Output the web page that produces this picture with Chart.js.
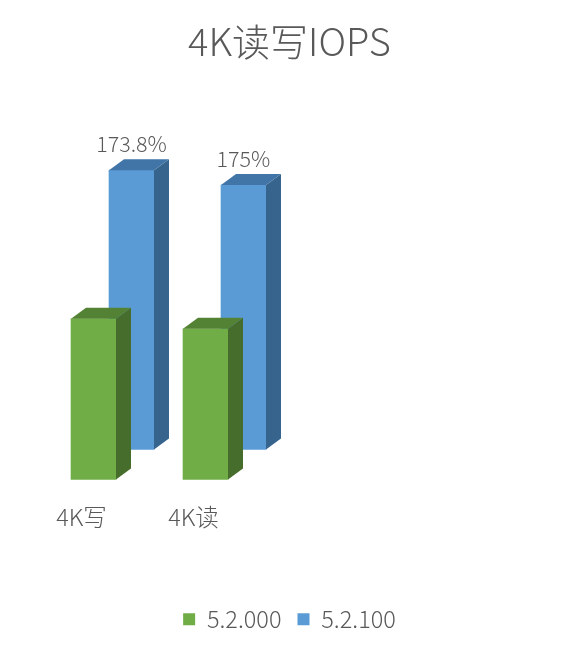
<!DOCTYPE html>
<html>
<head>
<meta charset="utf-8">
<title>4K读写IOPS</title>
<script src="https://cdn.jsdelivr.net/npm/chart.js@4"></script>
<style>
  html, body { margin: 0; padding: 0; background: #fff; }
  canvas { display: block; }
</style>
</head>
<body>
<canvas id="MyChart" width="579" height="652"></canvas>
<script>
const categories = ['4K写', '4K读'];
const seriesNames = ['5.2.000', '5.2.100'];
const values52000 = [100, 93.8];
const values52100 = [173.8, 164.6];
const labels52100 = ['173.8%', '175%'];

const fontFamily = '"Noto Sans CJK SC", "Noto Sans", sans-serif';
const textColor = '#595959';

// fake 3d: side and top faces, drawn from the bar elements
const depthX = 15, depthY = 11;
const backX = 38, backY = 30;
const faces = [
  { side: '#466D2C', top: '#548235' },
  { side: '#37648D', top: '#4175A8' }
];

const bars3d = {
  id: 'bars3d',
  beforeDatasetDraw(chart, args) {
    chart.ctx.save();
    if (args.index === 1) chart.ctx.translate(backX, -backY);
  },
  afterDatasetDraw(chart, args) {
    const ctx = chart.ctx;
    args.meta.data.forEach(function (bar, i) {
      const l = bar.x - bar.width / 2, r = bar.x + bar.width / 2;
      ctx.fillStyle = faces[args.index].side;
      ctx.beginPath();
      ctx.moveTo(r, bar.y);
      ctx.lineTo(r + depthX, bar.y - depthY);
      ctx.lineTo(r + depthX, bar.base - depthY);
      ctx.lineTo(r, bar.base);
      ctx.fill();
      ctx.fillStyle = faces[args.index].top;
      ctx.beginPath();
      ctx.moveTo(l, bar.y);
      ctx.lineTo(l + depthX, bar.y - depthY);
      ctx.lineTo(r + depthX, bar.y - depthY);
      ctx.lineTo(r, bar.y);
      ctx.fill();
      if (args.index === 1) {
        ctx.fillStyle = textColor;
        ctx.font = '300 21.5px ' + fontFamily;
        ctx.textAlign = 'center';
        ctx.textBaseline = 'middle';
        ctx.fillText(labels52100[i], bar.x, bar.y - 26);
      }
    });
    ctx.restore();
  }
};

const data = {
  labels: categories,
  datasets: [
    { label: seriesNames[0], data: values52000, backgroundColor: '#70AD47', barThickness: 45, grouped: false, clip: false },
    { label: seriesNames[1], data: values52100, backgroundColor: '#5B9BD5', barThickness: 45, grouped: false, clip: false }
  ]
};

const config = {
  type: 'bar',
  data: data,
  plugins: [bars3d],
  options: {
    responsive: false,
    animation: false,
    layout: { padding: { bottom: 11 } },
    plugins: {
      title: {
        display: true,
        text: '4K读写IOPS',
        color: textColor,
        font: { family: fontFamily, size: 38, weight: '300' },
        padding: { top: 18.5, bottom: 94 }
      },
      legend: {
        position: 'bottom',
        labels: {
          color: textColor,
          font: { family: fontFamily, size: 23.5, weight: '300' },
          boxWidth: 12,
          boxHeight: 12,
          padding: 16
        }
      },
      tooltip: { enabled: false }
    },
    scales: {
      x: {
        grid: { display: false },
        border: { display: false },
        ticks: { color: textColor, font: { family: fontFamily, size: 23.5, weight: '300' }, padding: 15, labelOffset: -12, maxRotation: 0 },
        afterFit: function (s) { s.height = 112; }
      },
      y: {
        min: 0,
        max: 200,
        grid: { display: false },
        border: { display: false },
        ticks: { display: false },
        afterFit: function (s) { s.width = 37.5; }
      },
      // only keeps the empty room on the right of the bars
      blank: {
        position: 'right',
        grid: { display: false },
        border: { display: false },
        ticks: { display: false },
        afterFit: function (s) { s.width = 317.5; }
      }
    }
  }
};

const myChart = new Chart(document.getElementById('MyChart'), config);
</script>
</body>
</html>
